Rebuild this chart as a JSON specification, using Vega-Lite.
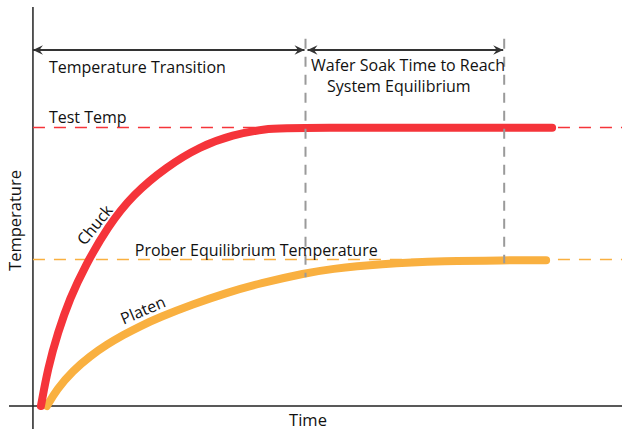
{
  "$schema": "https://vega.github.io/schema/vega-lite/v6.json",
  "width": 623,
  "height": 430,
  "padding": 0,
  "autosize": {"type": "fit", "contains": "padding"},
  "view": {"stroke": null},
  "config": {"font": "Open Sans"},
  "datasets": {
    "axes": [
      {"t": -4.8, "t2": 118, "v": 0, "v2": 0},
      {"t": 0, "t2": 0, "v": -7.7, "v2": 133.3}
    ],
    "refs": [
      {"name": "Test Temp", "t": 0, "t2": 118, "v": 93.1},
      {"name": "Prober Equilibrium Temperature", "t": 0, "t2": 118, "v": 49}
    ],
    "soak": [
      {"t": 54.6, "v": 122.7, "v2": 43},
      {"t": 94.4, "v": 122.7, "v2": 47.7}
    ],
    "curves": [
      {"series": "Platen", "t": 2.8, "temp": 0},
      {"series": "Platen", "t": 4.8, "temp": 5.67},
      {"series": "Platen", "t": 8.0, "temp": 11.8},
      {"series": "Platen", "t": 11.4, "temp": 16.63},
      {"series": "Platen", "t": 14.8, "temp": 20.53},
      {"series": "Platen", "t": 18.0, "temp": 23.67},
      {"series": "Platen", "t": 21.4, "temp": 26.63},
      {"series": "Platen", "t": 25.4, "temp": 29.7},
      {"series": "Platen", "t": 32.0, "temp": 34},
      {"series": "Platen", "t": 38.8, "temp": 37.83},
      {"series": "Platen", "t": 45.4, "temp": 41},
      {"series": "Platen", "t": 54.8, "temp": 44.47},
      {"series": "Platen", "t": 59.4, "temp": 45.77},
      {"series": "Platen", "t": 69.4, "temp": 47.5},
      {"series": "Platen", "t": 82.8, "temp": 48.5},
      {"series": "Platen", "t": 94.0, "temp": 48.7},
      {"series": "Platen", "t": 102.8, "temp": 48.7},
      {"series": "Chuck", "t": 1.6, "temp": 0},
      {"series": "Chuck", "t": 3.0, "temp": 12.67},
      {"series": "Chuck", "t": 5.0, "temp": 24.67},
      {"series": "Chuck", "t": 7.4, "temp": 36},
      {"series": "Chuck", "t": 10.4, "temp": 46.67},
      {"series": "Chuck", "t": 15.0, "temp": 60},
      {"series": "Chuck", "t": 20.0, "temp": 70.67},
      {"series": "Chuck", "t": 26.8, "temp": 80},
      {"series": "Chuck", "t": 33.4, "temp": 86.67},
      {"series": "Chuck", "t": 40.0, "temp": 90.67},
      {"series": "Chuck", "t": 46.8, "temp": 92.67},
      {"series": "Chuck", "t": 51.4, "temp": 93},
      {"series": "Chuck", "t": 104.0, "temp": 93}
    ],
    "arrows": [
      {"t": 0, "t2": 54.4, "v": 119},
      {"t": 55.0, "t2": 94.2, "v": 119}
    ],
    "labels": [
      {"text": "Temperature Transition", "t": 3.2, "v": 111.4},
      {"text": "Test Temp", "t": 3.2, "v": 94.6},
      {"text": "Wafer Soak Time to Reach", "t": 55.7, "v": 111.8},
      {"text": "System Equilibrium", "t": 58.9, "v": 104.8},
      {"text": "Prober Equilibrium Temperature", "t": 20.4, "v": 50.3}
    ]
  },
  "encoding": {
    "x": {"type": "quantitative", "scale": {"domain": [-6.6, 118], "nice": false, "zero": false}, "axis": null},
    "y": {"type": "quantitative", "scale": {"domain": [-7.667, 135.667], "nice": false, "zero": false}, "axis": null}
  },
  "layer": [
    {
      "data": {"name": "axes"},
      "mark": {"type": "rule", "color": "#222222", "strokeWidth": 1.5},
      "encoding": {"x": {"field": "t"}, "x2": {"field": "t2"}, "y": {"field": "v"}, "y2": {"field": "v2"}}
    },
    {
      "data": {"name": "refs"},
      "mark": {"type": "rule", "strokeWidth": 1.5, "strokeDash": [12, 9]},
      "encoding": {
        "x": {"field": "t"}, "x2": {"field": "t2"}, "y": {"field": "v"},
        "color": {"field": "name", "type": "nominal", "scale": {"domain": ["Test Temp", "Prober Equilibrium Temperature"], "range": ["#f5343a", "#f9b040"]}, "legend": null}
      }
    },
    {
      "data": {"name": "curves"},
      "mark": {"type": "line", "strokeWidth": 8, "strokeCap": "round", "strokeJoin": "round", "interpolate": "basis"},
      "encoding": {
        "x": {"field": "t"}, "y": {"field": "temp"},
        "color": {"field": "series", "type": "nominal", "scale": {"domain": ["Chuck", "Platen"], "range": ["#ed1c24", "#fbb03b"]}, "legend": null},
        "order": {"field": "t"}
      }
    },
    {
      "data": {"name": "soak"},
      "mark": {"type": "rule", "color": "#9a9a9a", "strokeWidth": 2, "strokeDash": [10, 8]},
      "encoding": {"x": {"field": "t"}, "y": {"field": "v"}, "y2": {"field": "v2"}}
    },
    {
      "data": {"name": "arrows"},
      "mark": {"type": "rule", "color": "#333333", "strokeWidth": 2},
      "encoding": {"x": {"field": "t"}, "x2": {"field": "t2"}, "y": {"field": "v"}}
    },
    {
      "data": {"name": "arrows"},
      "mark": {"type": "point", "filled": true, "color": "#333333", "opacity": 1, "size": 25, "shape": "M0,0 L4,-1.9 L2.6,0 L4,1.9 Z"},
      "encoding": {"x": {"field": "t"}, "y": {"field": "v"}}
    },
    {
      "data": {"name": "arrows"},
      "mark": {"type": "point", "filled": true, "color": "#333333", "opacity": 1, "size": 25, "shape": "M0,0 L-4,-1.9 L-2.6,0 L-4,1.9 Z"},
      "encoding": {"x": {"field": "t2"}, "y": {"field": "v"}}
    },
    {
      "data": {"name": "labels"},
      "mark": {"type": "text", "align": "left", "baseline": "alphabetic", "fontSize": 16, "color": "#111111"},
      "encoding": {"x": {"field": "t"}, "y": {"field": "v"}, "text": {"field": "text"}}
    },
    {
      "data": {"values": [{"text": "Chuck", "t": 12.5, "v": 60.4}]},
      "mark": {"type": "text", "align": "center", "baseline": "middle", "fontSize": 16, "angle": -51, "color": "#111111"},
      "encoding": {"x": {"field": "t"}, "y": {"field": "v"}, "text": {"field": "text"}}
    },
    {
      "data": {"values": [{"text": "Platen", "t": 22.1, "v": 31.8}]},
      "mark": {"type": "text", "align": "center", "baseline": "middle", "fontSize": 16, "angle": -23, "color": "#111111"},
      "encoding": {"x": {"field": "t"}, "y": {"field": "v"}, "text": {"field": "text"}}
    },
    {
      "data": {"values": [{"text": "Temperature", "t": -3.3, "v": 62}]},
      "mark": {"type": "text", "align": "center", "baseline": "middle", "fontSize": 16.5, "angle": -90, "color": "#111111"},
      "encoding": {"x": {"field": "t"}, "y": {"field": "v"}, "text": {"field": "text"}}
    },
    {
      "data": {"values": [{"text": "Time", "t": 55.1, "v": -5}]},
      "mark": {"type": "text", "align": "center", "baseline": "middle", "fontSize": 16.5, "color": "#111111"},
      "encoding": {"x": {"field": "t"}, "y": {"field": "v"}, "text": {"field": "text"}}
    }
  ]
}
